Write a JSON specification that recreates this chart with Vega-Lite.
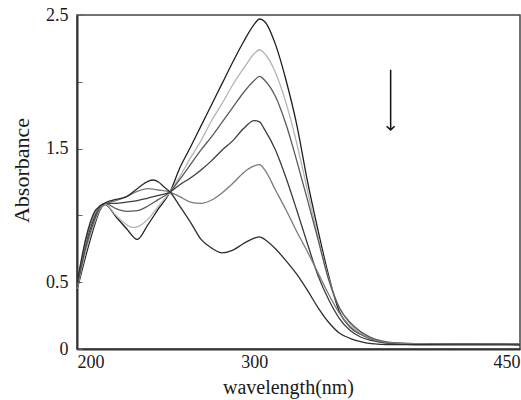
{
  "$schema": "https://vega.github.io/schema/vega-lite/v6.json",
  "width": 443,
  "height": 334,
  "autosize": {"type": "none"},
  "padding": {"left": 77, "top": 15, "right": 1, "bottom": 51},
  "background": "white",
  "config": {
    "view": {"stroke": "#444", "strokeWidth": 1.5},
    "font": "Liberation Serif"
  },
  "datasets": {
    "spec": [
      {"s":"1","wl":200,"a":0.44},{"s":"1","wl":205,"a":0.70},{"s":"1","wl":210,"a":0.93},{"s":"1","wl":213,"a":1.04},{"s":"1","wl":216,"a":1.08},{"s":"1","wl":222,"a":0.99},{"s":"1","wl":228,"a":0.90},{"s":"1","wl":234,"a":0.82},{"s":"1","wl":240,"a":0.93},{"s":"1","wl":246,"a":1.05},{"s":"1","wl":252.5,"a":1.175},{"s":"1","wl":258,"a":1.355},{"s":"1","wl":264,"a":1.51},{"s":"1","wl":270,"a":1.67},{"s":"1","wl":276,"a":1.83},{"s":"1","wl":282,"a":1.99},{"s":"1","wl":288,"a":2.15},{"s":"1","wl":294,"a":2.30},{"s":"1","wl":300,"a":2.43},{"s":"1","wl":303,"a":2.47},{"s":"1","wl":306,"a":2.45},{"s":"1","wl":312,"a":2.28},{"s":"1","wl":318,"a":2.01},{"s":"1","wl":324,"a":1.68},{"s":"1","wl":330,"a":1.26},{"s":"1","wl":336,"a":0.89},{"s":"1","wl":342,"a":0.55},{"s":"1","wl":348,"a":0.28},{"s":"1","wl":354,"a":0.165},{"s":"1","wl":360,"a":0.11},{"s":"1","wl":366,"a":0.075},{"s":"1","wl":372,"a":0.05},{"s":"1","wl":380,"a":0.042},{"s":"1","wl":390,"a":0.04},{"s":"1","wl":400,"a":0.038},{"s":"1","wl":415,"a":0.037},{"s":"1","wl":430,"a":0.036},{"s":"1","wl":450,"a":0.035},
      {"s":"2","wl":200,"a":0.45},{"s":"2","wl":205,"a":0.73},{"s":"2","wl":210,"a":0.95},{"s":"2","wl":213,"a":1.05},{"s":"2","wl":216,"a":1.085},{"s":"2","wl":222,"a":1.0},{"s":"2","wl":228,"a":0.93},{"s":"2","wl":231,"a":0.91},{"s":"2","wl":234,"a":0.915},{"s":"2","wl":240,"a":0.97},{"s":"2","wl":246,"a":1.07},{"s":"2","wl":252.5,"a":1.175},{"s":"2","wl":258,"a":1.29},{"s":"2","wl":264,"a":1.43},{"s":"2","wl":270,"a":1.56},{"s":"2","wl":276,"a":1.71},{"s":"2","wl":282,"a":1.84},{"s":"2","wl":288,"a":1.98},{"s":"2","wl":294,"a":2.10},{"s":"2","wl":300,"a":2.21},{"s":"2","wl":303,"a":2.24},{"s":"2","wl":306,"a":2.21},{"s":"2","wl":312,"a":2.07},{"s":"2","wl":318,"a":1.84},{"s":"2","wl":324,"a":1.54},{"s":"2","wl":330,"a":1.19},{"s":"2","wl":336,"a":0.84},{"s":"2","wl":342,"a":0.53},{"s":"2","wl":348,"a":0.31},{"s":"2","wl":354,"a":0.19},{"s":"2","wl":360,"a":0.12},{"s":"2","wl":366,"a":0.08},{"s":"2","wl":372,"a":0.055},{"s":"2","wl":380,"a":0.045},{"s":"2","wl":390,"a":0.04},{"s":"2","wl":400,"a":0.04},{"s":"2","wl":415,"a":0.038},{"s":"2","wl":430,"a":0.037},{"s":"2","wl":450,"a":0.036},
      {"s":"3","wl":200,"a":0.46},{"s":"3","wl":205,"a":0.76},{"s":"3","wl":210,"a":0.97},{"s":"3","wl":213,"a":1.06},{"s":"3","wl":216,"a":1.09},{"s":"3","wl":222,"a":1.05},{"s":"3","wl":228,"a":1.03},{"s":"3","wl":234,"a":1.035},{"s":"3","wl":240,"a":1.07},{"s":"3","wl":246,"a":1.12},{"s":"3","wl":252.5,"a":1.175},{"s":"3","wl":258,"a":1.27},{"s":"3","wl":264,"a":1.38},{"s":"3","wl":270,"a":1.49},{"s":"3","wl":276,"a":1.59},{"s":"3","wl":282,"a":1.70},{"s":"3","wl":288,"a":1.81},{"s":"3","wl":294,"a":1.92},{"s":"3","wl":300,"a":2.01},{"s":"3","wl":303,"a":2.04},{"s":"3","wl":306,"a":2.01},{"s":"3","wl":312,"a":1.89},{"s":"3","wl":318,"a":1.68},{"s":"3","wl":324,"a":1.41},{"s":"3","wl":330,"a":1.12},{"s":"3","wl":336,"a":0.82},{"s":"3","wl":342,"a":0.52},{"s":"3","wl":348,"a":0.31},{"s":"3","wl":354,"a":0.20},{"s":"3","wl":360,"a":0.13},{"s":"3","wl":366,"a":0.085},{"s":"3","wl":372,"a":0.06},{"s":"3","wl":380,"a":0.045},{"s":"3","wl":390,"a":0.04},{"s":"3","wl":400,"a":0.039},{"s":"3","wl":415,"a":0.038},{"s":"3","wl":430,"a":0.037},{"s":"3","wl":450,"a":0.036},
      {"s":"4","wl":200,"a":0.47},{"s":"4","wl":205,"a":0.79},{"s":"4","wl":210,"a":0.99},{"s":"4","wl":213,"a":1.07},{"s":"4","wl":216,"a":1.09},{"s":"4","wl":222,"a":1.09},{"s":"4","wl":228,"a":1.10},{"s":"4","wl":234,"a":1.11},{"s":"4","wl":240,"a":1.13},{"s":"4","wl":246,"a":1.15},{"s":"4","wl":252.5,"a":1.175},{"s":"4","wl":258,"a":1.23},{"s":"4","wl":264,"a":1.28},{"s":"4","wl":270,"a":1.34},{"s":"4","wl":276,"a":1.41},{"s":"4","wl":282,"a":1.49},{"s":"4","wl":288,"a":1.56},{"s":"4","wl":294,"a":1.65},{"s":"4","wl":300,"a":1.71},{"s":"4","wl":303,"a":1.70},{"s":"4","wl":306,"a":1.64},{"s":"4","wl":312,"a":1.49},{"s":"4","wl":318,"a":1.28},{"s":"4","wl":324,"a":1.04},{"s":"4","wl":330,"a":0.79},{"s":"4","wl":336,"a":0.55},{"s":"4","wl":342,"a":0.37},{"s":"4","wl":348,"a":0.23},{"s":"4","wl":354,"a":0.14},{"s":"4","wl":360,"a":0.09},{"s":"4","wl":366,"a":0.065},{"s":"4","wl":372,"a":0.05},{"s":"4","wl":380,"a":0.042},{"s":"4","wl":390,"a":0.04},{"s":"4","wl":400,"a":0.038},{"s":"4","wl":415,"a":0.037},{"s":"4","wl":430,"a":0.036},{"s":"4","wl":450,"a":0.035},
      {"s":"5","wl":200,"a":0.48},{"s":"5","wl":205,"a":0.81},{"s":"5","wl":210,"a":1.01},{"s":"5","wl":213,"a":1.07},{"s":"5","wl":216,"a":1.09},{"s":"5","wl":222,"a":1.11},{"s":"5","wl":228,"a":1.14},{"s":"5","wl":234,"a":1.18},{"s":"5","wl":240,"a":1.20},{"s":"5","wl":246,"a":1.19},{"s":"5","wl":252.5,"a":1.175},{"s":"5","wl":258,"a":1.14},{"s":"5","wl":264,"a":1.10},{"s":"5","wl":270,"a":1.09},{"s":"5","wl":276,"a":1.115},{"s":"5","wl":282,"a":1.17},{"s":"5","wl":288,"a":1.24},{"s":"5","wl":294,"a":1.32},{"s":"5","wl":300,"a":1.37},{"s":"5","wl":303,"a":1.38},{"s":"5","wl":306,"a":1.34},{"s":"5","wl":312,"a":1.19},{"s":"5","wl":318,"a":1.04},{"s":"5","wl":324,"a":0.88},{"s":"5","wl":330,"a":0.73},{"s":"5","wl":336,"a":0.57},{"s":"5","wl":342,"a":0.41},{"s":"5","wl":348,"a":0.27},{"s":"5","wl":354,"a":0.17},{"s":"5","wl":360,"a":0.11},{"s":"5","wl":366,"a":0.075},{"s":"5","wl":372,"a":0.055},{"s":"5","wl":380,"a":0.045},{"s":"5","wl":390,"a":0.04},{"s":"5","wl":400,"a":0.039},{"s":"5","wl":415,"a":0.037},{"s":"5","wl":430,"a":0.036},{"s":"5","wl":450,"a":0.035},
      {"s":"6","wl":200,"a":0.49},{"s":"6","wl":205,"a":0.83},{"s":"6","wl":210,"a":1.03},{"s":"6","wl":213,"a":1.07},{"s":"6","wl":216,"a":1.095},{"s":"6","wl":222,"a":1.12},{"s":"6","wl":228,"a":1.14},{"s":"6","wl":234,"a":1.20},{"s":"6","wl":240,"a":1.255},{"s":"6","wl":243,"a":1.265},{"s":"6","wl":246,"a":1.25},{"s":"6","wl":249,"a":1.215},{"s":"6","wl":252.5,"a":1.175},{"s":"6","wl":258,"a":1.07},{"s":"6","wl":264,"a":0.95},{"s":"6","wl":270,"a":0.82},{"s":"6","wl":276,"a":0.755},{"s":"6","wl":282,"a":0.72},{"s":"6","wl":288,"a":0.74},{"s":"6","wl":294,"a":0.79},{"s":"6","wl":300,"a":0.83},{"s":"6","wl":303,"a":0.84},{"s":"6","wl":306,"a":0.82},{"s":"6","wl":312,"a":0.75},{"s":"6","wl":318,"a":0.66},{"s":"6","wl":324,"a":0.56},{"s":"6","wl":330,"a":0.44},{"s":"6","wl":336,"a":0.31},{"s":"6","wl":342,"a":0.20},{"s":"6","wl":348,"a":0.12},{"s":"6","wl":354,"a":0.08},{"s":"6","wl":360,"a":0.055},{"s":"6","wl":366,"a":0.04},{"s":"6","wl":372,"a":0.035},{"s":"6","wl":380,"a":0.033},{"s":"6","wl":390,"a":0.032},{"s":"6","wl":400,"a":0.032},{"s":"6","wl":415,"a":0.031},{"s":"6","wl":430,"a":0.031},{"s":"6","wl":450,"a":0.03}
    ],
    "arrow": [{"wl": 377, "top": 2.09, "tip": 1.64}]
  },
  "layer": [
    {
      "data": {"name": "spec"},
      "mark": {"type": "line", "interpolate": "monotone", "strokeWidth": 1.3, "clip": true},
      "encoding": {
        "x": {
          "field": "wl", "type": "quantitative",
          "scale": {"domain": [200, 450], "nice": false, "zero": false},
          "axis": {
            "values": [200, 300, 450],
            "title": "wavelength(nm)",
            "grid": false, "ticks": false,
            "domainColor": "#333", "domainWidth": 2,
            "labelFont": "Liberation Serif", "labelFontSize": 18, "labelColor": "#1a1a1a",
            "labelPadding": 4, "labelFlush": true,
            "titleFont": "Liberation Serif", "titleFontSize": 20, "titleFontWeight": "normal", "titleColor": "#1a1a1a",
            "titleX": 211, "titleY": 44, "titleBaseline": "alphabetic", "titleAlign": "center"
          }
        },
        "y": {
          "field": "a", "type": "quantitative",
          "scale": {"domain": [0, 2.5], "nice": false},
          "axis": {
            "values": [0, 0.25, 0.5, 0.75, 1, 1.25, 1.5, 1.75, 2, 2.25, 2.5],
            "labelExpr": "datum.value == 0 || datum.value == 0.5 || datum.value == 1.5 || datum.value == 2.5 ? datum.label : ''",
            "format": "~g",
            "title": "Absorbance",
            "grid": false,
            "tickSize": -5, "tickColor": "#666", "tickWidth": 1,
            "domainColor": "#333", "domainWidth": 2,
            "labelFont": "Liberation Serif", "labelFontSize": 18, "labelColor": "#1a1a1a",
            "labelPadding": 14,
            "titleFont": "Liberation Serif", "titleFontSize": 22, "titleFontWeight": "normal", "titleColor": "#1a1a1a",
            "titleX": -56, "titleY": 155, "titleAngle": -90, "titleAlign": "center", "titleBaseline": "middle"
          }
        },
        "color": {
          "field": "s", "type": "nominal", "legend": null,
          "scale": {"domain": ["1","2","3","4","5","6"], "range": ["#1e1e1e", "#b4b4b4", "#5a5a5a", "#3c3c3c", "#7a7a7a", "#2e2e2e"]}
        },
        "order": {"field": "wl", "type": "quantitative"}
      }
    },
    {
      "data": {"name": "arrow"},
      "mark": {"type": "rule", "color": "#111", "strokeWidth": 1.5},
      "encoding": {
        "x": {"field": "wl", "type": "quantitative"},
        "y": {"field": "top", "type": "quantitative"},
        "y2": {"field": "tip"}
      }
    },
    {
      "data": {"name": "arrow"},
      "mark": {"type": "point", "shape": "M-1,-0.9L0,0L1,-0.9", "filled": false, "stroke": "#111", "strokeWidth": 1.5, "size": 64, "opacity": 1},
      "encoding": {
        "x": {"field": "wl", "type": "quantitative"},
        "y": {"field": "tip", "type": "quantitative"}
      }
    }
  ]
}
